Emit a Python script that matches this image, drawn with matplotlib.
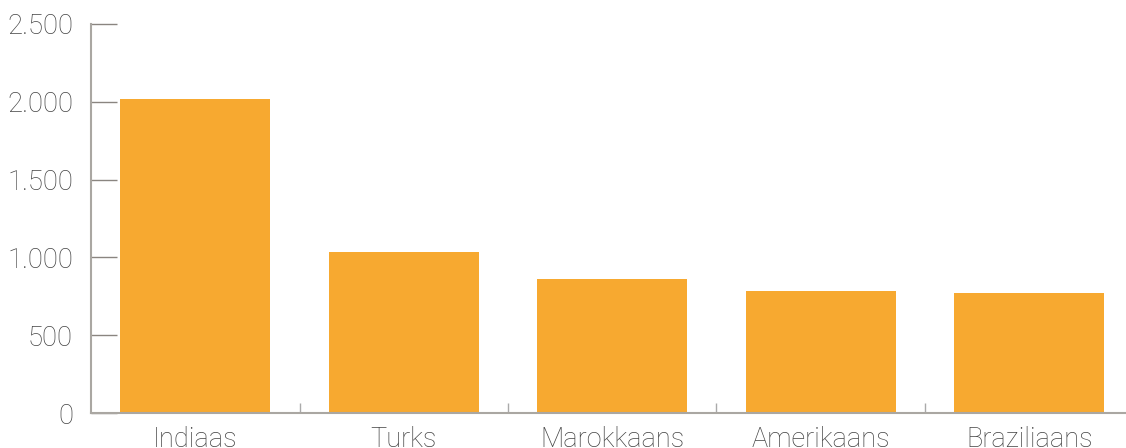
import matplotlib.pyplot as plt
from matplotlib.ticker import FuncFormatter

# data
categories = ['Indiaas', 'Turks', 'Marokkaans', 'Amerikaans', 'Braziliaans']
values = [2020, 1035, 862, 785, 772]
yticks = [0, 500, 1000, 1500, 2000, 2500]

plt.rcParams['font.family'] = ['Roboto', 'DejaVu Sans']

fig = plt.figure(figsize=(11.26, 4.48), dpi=100)
W, H = 1126, 448
ax = fig.add_axes([91 / W, 35 / H, (W - 91) / W, 389 / H])

x = list(range(len(categories)))
ax.bar(x, values, width=0.72, color='#F7A930', zorder=2)

ax.set_ylim(0, 2500)
ax.set_xlim(-0.5, -0.5 + (W - 91) / 208.5)

ax.set_yticks(yticks)
ax.yaxis.set_major_formatter(FuncFormatter(lambda v, p: f'{int(v):,}'.replace(',', '.')))
ax.tick_params(axis='y', direction='in', length=18.7, width=1.0, color='#8a8580',
               labelsize=19.8, labelcolor='#444444', pad=13)

ax.set_xticks(x)
ax.set_xticklabels(categories)
ax.set_xticks([i + 0.5 for i in range(len(categories) - 1)], minor=True)
ax.tick_params(axis='x', which='major', length=0, labelsize=19.5, labelcolor='#444444', pad=9)
ax.tick_params(axis='x', which='minor', direction='in', length=7.2, width=1.0, color='#aaaaaa')

for lab in ax.get_xticklabels() + ax.get_yticklabels():
    lab.set_fontweight('light')

for s in ['top', 'right']:
    ax.spines[s].set_visible(False)
ax.spines['left'].set_color('#aaa7a2')
ax.spines['bottom'].set_color('#aaa7a2')
ax.spines['left'].set_linewidth(1.5)
ax.spines['bottom'].set_linewidth(1.5)

fig.savefig('out.png', dpi=100)
